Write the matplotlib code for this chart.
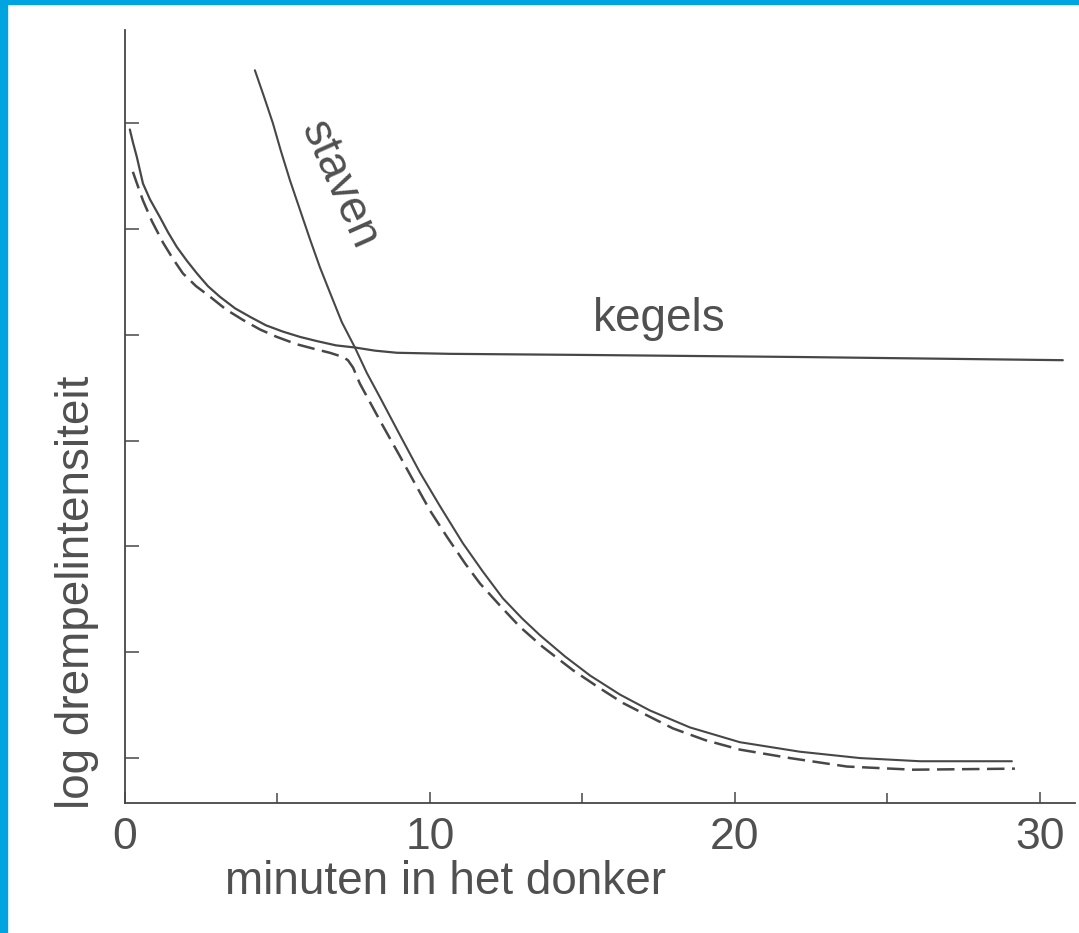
import matplotlib
matplotlib.use("Agg")
import matplotlib.pyplot as plt
from matplotlib.patches import Rectangle

plt.rcParams['font.family'] = ['Liberation Sans', 'DejaVu Sans']

# kegels (cones) curve, minutes vs log threshold
cone_t = [0.16, 0.26, 0.39, 0.59, 0.82, 1.15, 1.41, 1.70, 2.03, 2.36, 2.72, 3.11, 3.61,
          4.10, 4.62, 5.18, 5.74, 6.30, 6.92, 7.54, 8.20, 8.92, 10.66, 14.92, 22.13, 30.75]
cone_y = [5.94, 5.82, 5.68, 5.43, 5.28, 5.11, 4.97, 4.83, 4.70, 4.58, 4.46, 4.36, 4.25,
          4.17, 4.09, 4.03, 3.98, 3.94, 3.90, 3.88, 3.85, 3.83, 3.82, 3.81, 3.79, 3.76]

# staven (rods) curve
rod_t = [4.26, 4.56, 4.85, 5.11, 5.41, 5.74, 6.07, 6.39, 6.72, 7.11, 7.54, 7.93, 8.36,
         9.02, 9.67, 10.33, 11.08, 11.74, 12.39, 13.02, 13.61, 14.43, 15.25, 16.23,
         17.21, 18.52, 20.16, 22.13, 24.10, 26.07, 29.08]
rod_y = [6.50, 6.25, 6.00, 5.74, 5.46, 5.18, 4.90, 4.64, 4.40, 4.12, 3.88, 3.64, 3.41,
         3.05, 2.70, 2.38, 2.03, 1.76, 1.51, 1.32, 1.16, 0.96, 0.78, 0.60,
         0.45, 0.29, 0.15, 0.06, 0.00, -0.03, -0.03]

# dashed measured curve
meas_t = [0.26, 0.43, 0.59, 0.89, 1.25, 1.57, 1.90, 2.33, 2.79, 3.31, 3.87, 4.43, 4.98,
          5.64, 6.30, 6.72, 7.15, 7.31, 7.48, 7.70, 8.36, 9.02, 9.44, 10.00, 10.56,
          11.15, 11.64, 12.30, 12.95, 13.70, 14.69, 15.57, 16.33, 17.21, 17.97, 19.02,
          20.16, 21.80, 23.67, 25.84, 29.18]
meas_y = [5.54, 5.40, 5.27, 5.07, 4.87, 4.72, 4.58, 4.46, 4.36, 4.24, 4.14, 4.05, 3.98,
          3.91, 3.86, 3.83, 3.79, 3.76, 3.69, 3.54, 3.19, 2.85, 2.63, 2.34, 2.09,
          1.84, 1.65, 1.44, 1.24, 1.05, 0.83, 0.66, 0.52, 0.39, 0.28, 0.17,
          0.08, 0.00, -0.08, -0.11, -0.10]

x_major = [0, 10, 20, 30]
x_minor = [5, 15, 25]
y_ticks = [0, 1, 2, 3, 4, 5, 6]

ink = '#474747'
txt = '#505050'

fig = plt.figure(figsize=(10.79, 9.33), dpi=100)
ax = fig.add_axes([0.1158, 0.1393, 0.8805, 0.8285])

ax.plot(cone_t, cone_y, color=ink, lw=1.6, solid_capstyle='round', solid_joinstyle='round')
ax.plot(rod_t, rod_y, color=ink, lw=1.5, solid_capstyle='round', solid_joinstyle='round')
ax.plot(meas_t, meas_y, color=ink, lw=1.8, linestyle=(0, (7, 3)), dash_joinstyle='round')

ax.text(17.5, 4.04, 'kegels', fontsize=33, color=txt, ha='center', va='baseline')
ax.text(7.02, 5.42, 'staven', fontsize=33, color=txt, ha='center', va='center',
        rotation=-66, rotation_mode='anchor')

ax.set_xlim(0, 31.15)
ax.set_ylim(-0.425, 6.88)
ax.spines['top'].set_visible(False)
ax.spines['right'].set_visible(False)
for s in ('left', 'bottom'):
    ax.spines[s].set_color(ink)
    ax.spines[s].set_linewidth(1.3)

ax.set_xticks(x_major)
ax.set_xticks(x_minor, minor=True)
ax.set_xticklabels([str(v) for v in x_major])
ax.set_yticks(y_ticks)
ax.set_yticklabels([])
ax.tick_params(axis='x', which='major', direction='in', length=8, width=1.1,
               color=ink, labelsize=32, labelcolor=txt, pad=10)
ax.tick_params(axis='x', which='minor', direction='in', length=7, width=1.1, color=ink)
ax.tick_params(axis='y', direction='in', length=10, width=1.1, color=ink)

ax.set_xlabel('minuten in het donker', fontsize=33, color=txt, va='center')
ax.xaxis.set_label_coords(0.337, -0.102)
ax.set_ylabel('log drempelintensiteit', fontsize=33, color=txt, va='center')
ax.yaxis.set_label_coords(-0.05, 0.273)

# blue frame strips from the source picture
fig.patches.append(Rectangle((0, 0), 7 / 1079, 1, transform=fig.transFigure,
                             color='#00a5df', zorder=10))
fig.patches.append(Rectangle((0, 1 - 4 / 933), 1, 4 / 933, transform=fig.transFigure,
                             color='#00a5df', zorder=10))

fig.savefig('out.png', dpi=100)
